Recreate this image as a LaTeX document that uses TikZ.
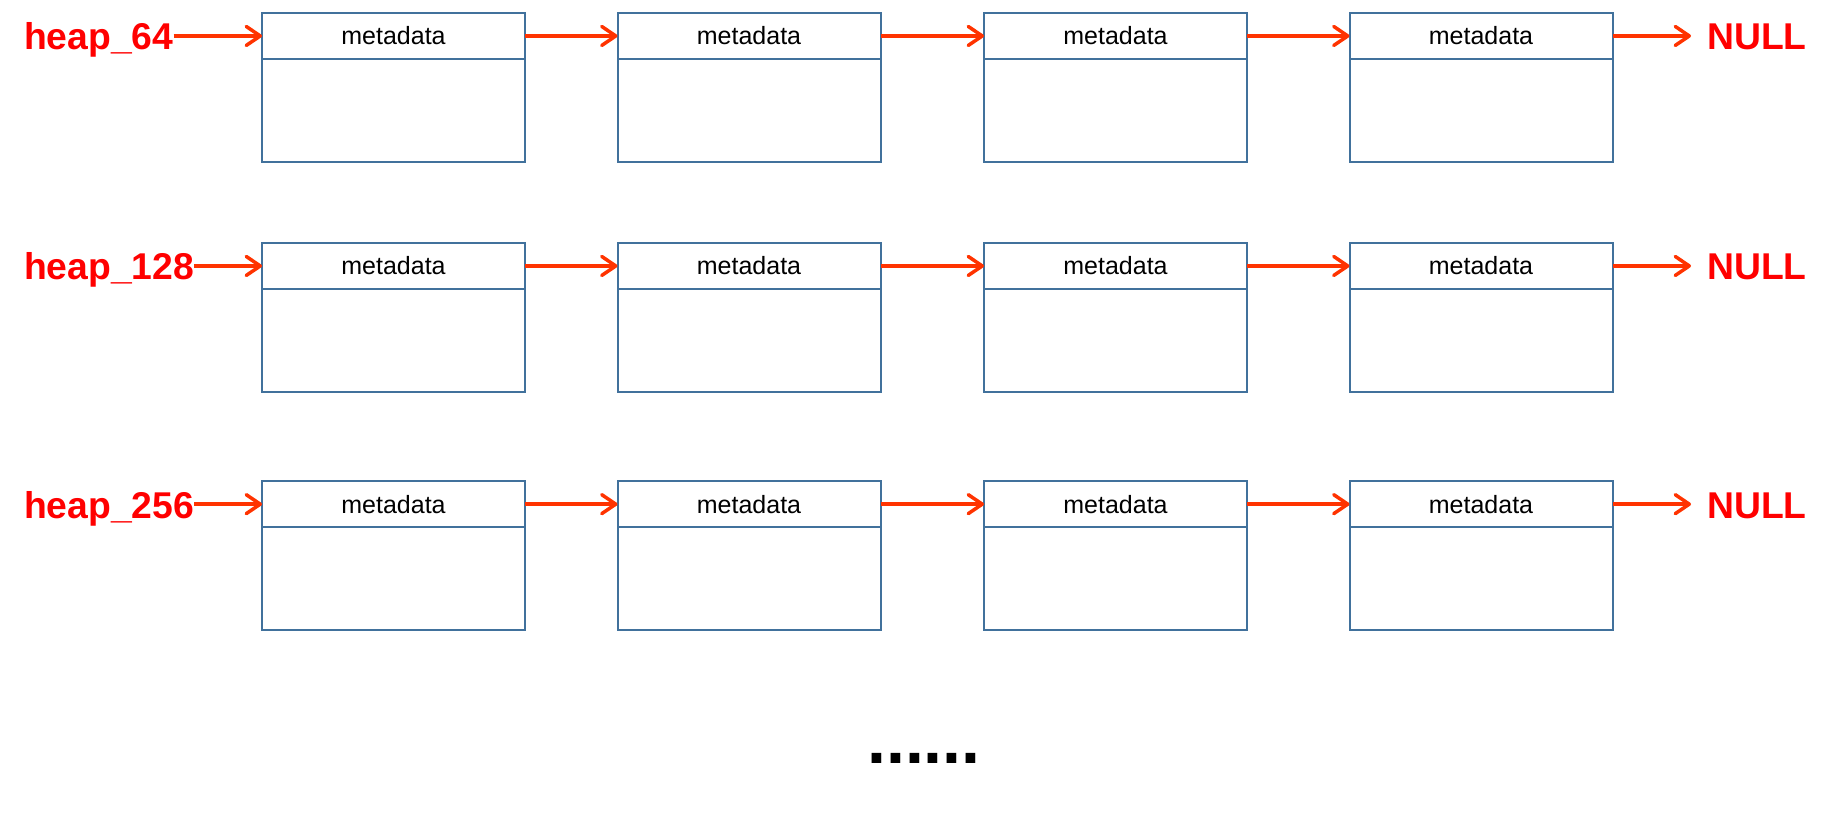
\documentclass[tikz,border=0pt]{standalone}
\usepackage{fontspec}
\setmainfont{Liberation Sans}
\usetikzlibrary{arrows.meta}
\definecolor{boxblue}{HTML}{41719C}
\definecolor{arrowred}{HTML}{FF3300}
\definecolor{labelred}{HTML}{FF0000}
\begin{document}
\begin{tikzpicture}[x=1pt,y=-1pt,
  hdr/.style={draw=boxblue, line width=2pt, minimum width=263pt, minimum height=46.3pt,
    inner sep=0pt, outer sep=0pt, anchor=north, font=\fontsize{25}{30}\selectfont},
  bdy/.style={draw=boxblue, line width=2pt, minimum width=263pt, minimum height=103pt,
    inner sep=0pt, outer sep=0pt, anchor=north},
  lbl/.style={text=labelred, font=\fontsize{37.3}{40}\selectfont\bfseries, inner sep=0pt, anchor=base west},
  link/.style={draw=arrowred, line width=3.5pt, -{Straight Barb[length=14pt,width=19pt,round]}}
]
\useasboundingbox (0,0) rectangle (1832,819);
\foreach \r/\t/\lab in {1/12.8/heap\_64, 2/242.8/heap\_128, 3/481/heap\_256}{
  \foreach \c/\x in {1/393.5, 2/749, 3/1115.5, 4/1481}{
    \node[hdr] (h\r\c) at (\x,\t) {metadata};
    \node[bdy] (b\r\c) at (h\r\c.south) {};
  }
  \node[lbl] (L\r) at (24,\t+37) {\lab};
  \node[lbl] (N\r) at (1707,\t+37) {NULL};
  \draw[link] (L\r.east |- h\r1.west) -- (h\r1.west);
  \draw[link] (h\r1.east) -- (h\r2.west);
  \draw[link] (h\r2.east) -- (h\r3.west);
  \draw[link] (h\r3.east) -- (h\r4.west);
  \draw[link, shorten >=16pt] (h\r4.east) -- (N\r.west |- h\r4.east);
}
\node[font=\fontsize{68}{70}\selectfont\bfseries, inner sep=0pt, anchor=base west] (dots) at (867,763.7) {......};
\end{tikzpicture}
\end{document}
